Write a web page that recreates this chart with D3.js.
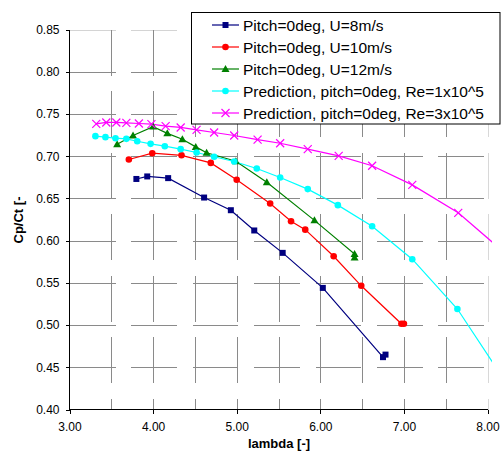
<!DOCTYPE html>
<html><head><meta charset="utf-8">
<script src="https://cdn.jsdelivr.net/npm/d3@7"></script>
<style>
body{margin:0;background:#fff;}
svg{display:block;font-family:Arial,"Liberation Sans",sans-serif;}
</style></head>
<body><svg id="c" width="501" height="457"></svg>
<script>
// ---- data ----
const seriesNames = ["Pitch=0deg, U=8m/s","Pitch=0deg, U=10m/s","Pitch=0deg, U=12m/s",
  "Prediction, pitch=0deg, Re=1x10^5","Prediction, pitch=0deg, Re=3x10^5"];
const u8X  = [3.80,3.93,4.18,4.61,4.93,5.21,5.55,6.03,6.75,6.78];
const u8Y  = [0.673,0.676,0.674,0.651,0.636,0.612,0.5855,0.544,0.462,0.465];
const u10X = [3.71,3.99,4.34,4.69,5.00,5.40,5.65,5.82,6.16,6.49,6.97,7.00];
const u10Y = [0.696,0.7035,0.701,0.692,0.672,0.644,0.623,0.613,0.5815,0.5465,0.5015,0.5015];
const u12X = [3.57,3.76,4.00,4.17,4.35,4.51,4.64,4.99,5.36,5.93,6.41,6.41];
const u12Y = [0.714,0.7245,0.735,0.727,0.720,0.711,0.704,0.694,0.669,0.624,0.584,0.580];
const re1X = [3.31,3.43,3.55,3.68,3.81,3.97,4.14,4.33,4.52,4.73,4.97,5.24,5.52,5.85,6.21,6.62,7.10,7.64,8.20];
const re1Y = [0.7237,0.7225,0.7213,0.7205,0.7177,0.7146,0.7118,0.7083,0.7043,0.6993,0.6937,0.6854,0.6747,0.661,0.642,0.617,0.578,0.519,0.435];
const re3X = [3.32,3.44,3.56,3.68,3.83,3.98,4.15,4.33,4.52,4.73,4.97,5.25,5.52,5.85,6.22,6.62,7.10,7.65,8.20];
const re3Y = [0.7383,0.7399,0.7399,0.7395,0.7387,0.7379,0.7355,0.734,0.7312,0.728,0.7245,0.7195,0.7153,0.7083,0.7004,0.6886,0.666,0.6329,0.586];
const xTicks = [3,4,5,6,7,8];
const xGrid  = [3.5,4,4.5,5,5.5,6,6.5,7,7.5,8];
const yTicks = [0.40,0.45,0.50,0.55,0.60,0.65,0.70,0.75,0.80,0.85];
const xTitle = "lambda [-]";
const yTitle = "Cp/Ct [-";

const colors = ["#000080","#ff0000","#008000","#00ffff","#ff00ff"];
const symbols = ["square","circle","triangle","circle","cross"];
const series = [[u8X,u8Y],[u10X,u10Y],[u12X,u12Y],[re1X,re1Y],[re3X,re3Y]].map((s,i)=>({
  name:seriesNames[i], color:colors[i], sym:symbols[i],
  pts:s[0].map((x,j)=>({x, y:s[1][j]}))
}));

const svg = d3.select("#c");
const x = d3.scaleLinear().domain([3,8]).range([69.5,487.5]);
const y = d3.scaleLinear().domain([0.40,0.85]).range([409.5,29.5]);
const L = x.range()[0], R = x.range()[1], T = y.range()[1], B = y.range()[0];

// grid
const gh = svg.append("g").attr("transform",`translate(${L},0)`)
  .call(d3.axisLeft(y).tickValues(yTicks.filter(v=>v>0.40)).tickSize(-(R-L)).tickFormat(""));
gh.select(".domain").remove();
gh.selectAll("line").attr("stroke","#8a8a8a").attr("stroke-dasharray","46,15.5").attr("shape-rendering","crispEdges");
gh.selectAll(".tick").filter(d=>d>0.849).select("line").attr("stroke","#d4d4d4");
const gv = svg.append("g").attr("transform",`translate(0,${T})`)
  .call(d3.axisTop(x).tickValues(xGrid).tickSize(-(B-T)).tickFormat(""));
gv.select(".domain").remove();
gv.selectAll("line").attr("stroke","#8a8a8a").attr("stroke-dasharray","46,15.5").attr("shape-rendering","crispEdges");
gv.selectAll(".tick").filter(d=>d>7.99).select("line").attr("stroke","#d8d8d8");

// axes
const ya = svg.append("g").attr("transform",`translate(${L},0)`)
  .call(d3.axisLeft(y).tickValues(yTicks).tickSize(4).tickPadding(6).tickFormat(d3.format(".2f")));
ya.select(".domain").attr("d",`M0,${B}V${T}`);
ya.selectAll("path,line").attr("stroke","#000").attr("shape-rendering","crispEdges");
ya.selectAll("text").attr("font-size","12px").attr("font-family","Arial,'Liberation Sans',sans-serif").attr("fill","#000");
const xa = svg.append("g").attr("transform",`translate(0,${B})`)
  .call(d3.axisBottom(x).tickValues(xTicks).tickSize(4).tickPadding(8.5).tickFormat(d3.format(".2f")));
xa.select(".domain").attr("d",`M${L},0H${R}`);
xa.selectAll("path,line").attr("stroke","#000").attr("shape-rendering","crispEdges");
xa.selectAll("text").attr("font-size","12px").attr("font-family","Arial,'Liberation Sans',sans-serif").attr("fill","#000");

// titles
svg.append("text").attr("x",279).attr("y",448).attr("text-anchor","middle")
  .attr("font-size","13px").attr("font-weight","bold").text(xTitle);
svg.append("text").attr("transform","translate(23,220) rotate(-90)").attr("text-anchor","middle")
  .attr("font-size","13px").attr("font-weight","bold").text(yTitle);

// clip
svg.append("clipPath").attr("id","pc").append("rect")
  .attr("x",L).attr("y",T-6).attr("width",R-L+4.5).attr("height",B-T+6);

function drawSym(g, sym, cx, cy, color){
  if(sym==="square") g.append("rect").attr("x",cx-3).attr("y",cy-3).attr("width",6).attr("height",6).attr("fill",color);
  else if(sym==="circle") g.append("circle").attr("cx",cx).attr("cy",cy).attr("r",3.3).attr("fill",color);
  else if(sym==="triangle") g.append("path").attr("d",`M${cx},${cy-4}L${cx+4},${cy+3}L${cx-4},${cy+3}Z`).attr("fill",color);
  else if(sym==="cross") g.append("path").attr("d",`M${cx-4},${cy-4}L${cx+4},${cy+4}M${cx-4},${cy+4}L${cx+4},${cy-4}`).attr("stroke",color).attr("stroke-width",1.2);
}

const plot = svg.append("g").attr("clip-path","url(#pc)");
const line = d3.line().x(d=>x(d.x)).y(d=>y(d.y));
series.forEach(s=>{
  plot.append("path").datum(s.pts).attr("d",line).attr("fill","none")
    .attr("stroke",s.color).attr("stroke-width",1.2);
});
series.forEach(s=>{
  const g = plot.append("g");
  s.pts.forEach(p=>drawSym(g,s.sym,x(p.x),y(p.y),s.color));
});

// legend
const lg = svg.append("g");
lg.append("rect").attr("x",191.5).attr("y",12.5).attr("width",308.5).attr("height",111.5)
  .attr("fill","#fff").attr("stroke","#000").attr("stroke-width",1);
series.forEach((s,i)=>{
  const cy = 25 + i*22;
  lg.append("line").attr("x1",212).attr("x2",239).attr("y1",cy).attr("y2",cy)
    .attr("stroke",s.color).attr("stroke-width",1.2);
  drawSym(lg,s.sym,225.5,cy,s.color);
  lg.append("text").attr("x",243).attr("y",cy).attr("dy","0.36em")
    .attr("font-size","15.5px").attr("fill","#000").text(s.name);
});
</script></body></html>
